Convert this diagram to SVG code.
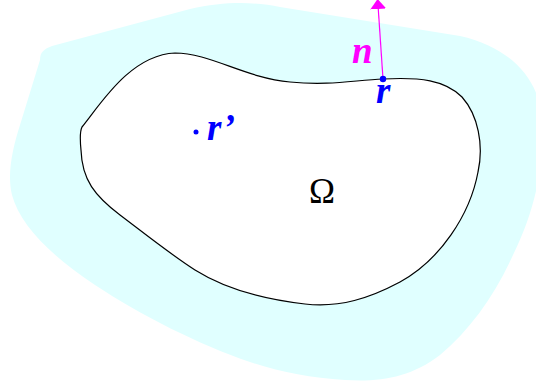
<svg xmlns="http://www.w3.org/2000/svg" width="536" height="388" viewBox="0 0 536 388">
<style>
.lbl{font-family:"Liberation Serif","Times New Roman",serif;font-weight:bold;font-style:italic;font-size:37px}
.blue{fill:#0000ff}
.mag{fill:#ff00ff}
</style>
<defs>
<marker id="ah" viewBox="0 0 10 16" refX="10" refY="8" markerWidth="10" markerHeight="16" markerUnits="userSpaceOnUse" orient="auto">
<path d="M0,0 L10,8 L0,16 Z" fill="#ff00ff"/>
</marker>
</defs>
<rect width="536" height="388" fill="#ffffff"/>
<g id="region">
<path d="M40,60 C40,52 44,49 52,46 L190,9 C225,1 255,2 280,7 L460,36 C505,46 532,72 540,105 C546,150 540,200 513,255 C495,295 470,330 440,355 C410,378 380,382 345,380 C310,378 280,372 250,362 C200,345 140,315 95,285 C50,255 20,225 12,195 C7,175 12,150 20,125 Z" fill="#e0ffff"/>
</g>
<g id="omega">
<path d="M82,127 C100,105 130,55 175,53 C210,53 245,78 290,82 C330,86 355,80 383,79 C420,77 445,80 462,97 C478,115 484,145 478,172 C470,215 440,260 400,282 C370,298 340,308 305,304 C270,300 230,292 195,270 C170,254 140,230 120,215 C95,196 82,180 81,150 C80,140 80,131 82,127 Z" fill="#ffffff" stroke="#000000" stroke-width="1.2"/>
<text x="322" y="203" text-anchor="middle" font-family="Liberation Serif, Times New Roman, serif" font-size="35" fill="#000000">Ω</text>
</g>
<g id="connectors">
<line x1="383" y1="79" x2="377.6" y2="-1" stroke="#ff00ff" stroke-width="1.2" marker-end="url(#ah)"/>
</g>
<g id="point-r">
<circle cx="383" cy="79" r="3.2" class="blue"/>
<text x="376" y="103" class="lbl blue">r</text>
</g>
<g id="label-n">
<text x="352" y="63" class="lbl mag">n</text>
</g>
<g id="point-rprime">
<circle cx="196" cy="132" r="2.5" class="blue"/>
<text x="207" y="140" class="lbl blue">r’</text>
</g>
</svg>
